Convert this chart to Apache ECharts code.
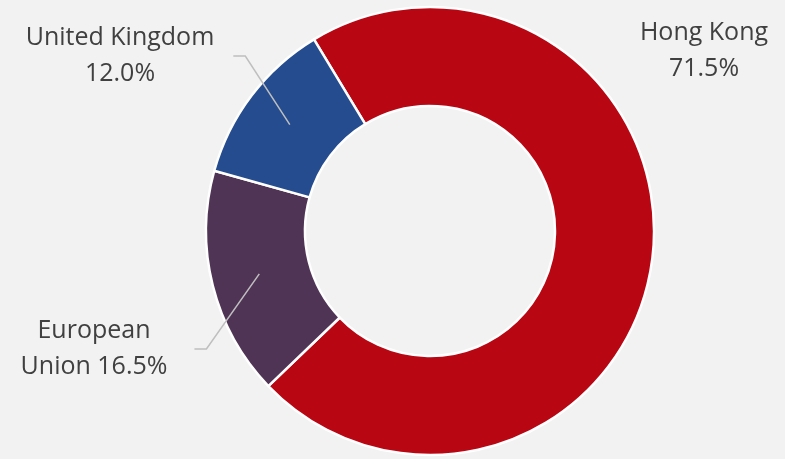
<!DOCTYPE html>
<html>
<head>
<meta charset="utf-8">
<script src="https://cdn.jsdelivr.net/npm/echarts@6/dist/echarts.min.js"></script>
<style>
  html, body { margin: 0; padding: 0; background: #f2f2f2; }
  #chart { width: 785px; height: 459px; }
</style>
</head>
<body>
<div id="chart"></div>
<script>
const regions = ['Hong Kong', 'European Union', 'United Kingdom']
const shares = [71.5, 16.5, 12.0]
const labelText = ['Hong Kong\n71.5%', 'European\nUnion 16.5%', 'United Kingdom\n12.0%']
const colors = ['#b80613', '#503456', '#244c8e']
// centre of each text block, and the gap left before the leader line
const labelPos = [[704, 51], [94, 349], [120, 56]]
const lineGap = [0, 27, 19]

const pieData = regions.map((name, i) => ({
  name: name,
  value: shares[i],
  itemStyle: { color: colors[i] }
}))

const helperData = regions.map((name, i) => ({
  name: name,
  value: shares[i],
  label: { formatter: labelText[i], padding: [0, lineGap[i], 0, 0] },
  labelLine: { show: i !== 0 }
}))

const chart = echarts.init(document.getElementById('chart'))
chart.setOption({
  backgroundColor: '#f2f2f2',
  animation: false,
  series: [
    {
      type: 'pie',
      center: [430, 231],
      radius: [125, 224],
      startAngle: 121.2,
      clockwise: true,
      silent: true,
      label: { show: false },
      labelLine: { show: false },
      itemStyle: { borderColor: '#ffffff', borderWidth: 2.5 },
      data: pieData
    },
    {
      // invisible ring, only used to anchor the leader lines mid-band
      type: 'pie',
      center: [430, 231],
      radius: [0, 176],
      startAngle: 121.2,
      clockwise: true,
      silent: true,
      z: 3,
      itemStyle: { color: 'rgba(0,0,0,0)' },
      label: {
        show: true,
        position: 'outside',
        fontFamily: 'Open Sans',
        fontSize: 25,
        lineHeight: 36,
        color: '#404040',
        align: 'center'
      },
      labelLine: {
        show: true,
        length: 10,
        length2: 12,
        lineStyle: { color: '#bfbfbf', width: 1.5 }
      },
      labelLayout: function (p) {
        const pos = labelPos[p.dataIndex]
        return {
          x: pos[0] + lineGap[p.dataIndex] / 2,
          y: pos[1],
          align: 'center',
          verticalAlign: 'middle'
        }
      },
      data: helperData
    }
  ]
})
</script>
</body>
</html>
